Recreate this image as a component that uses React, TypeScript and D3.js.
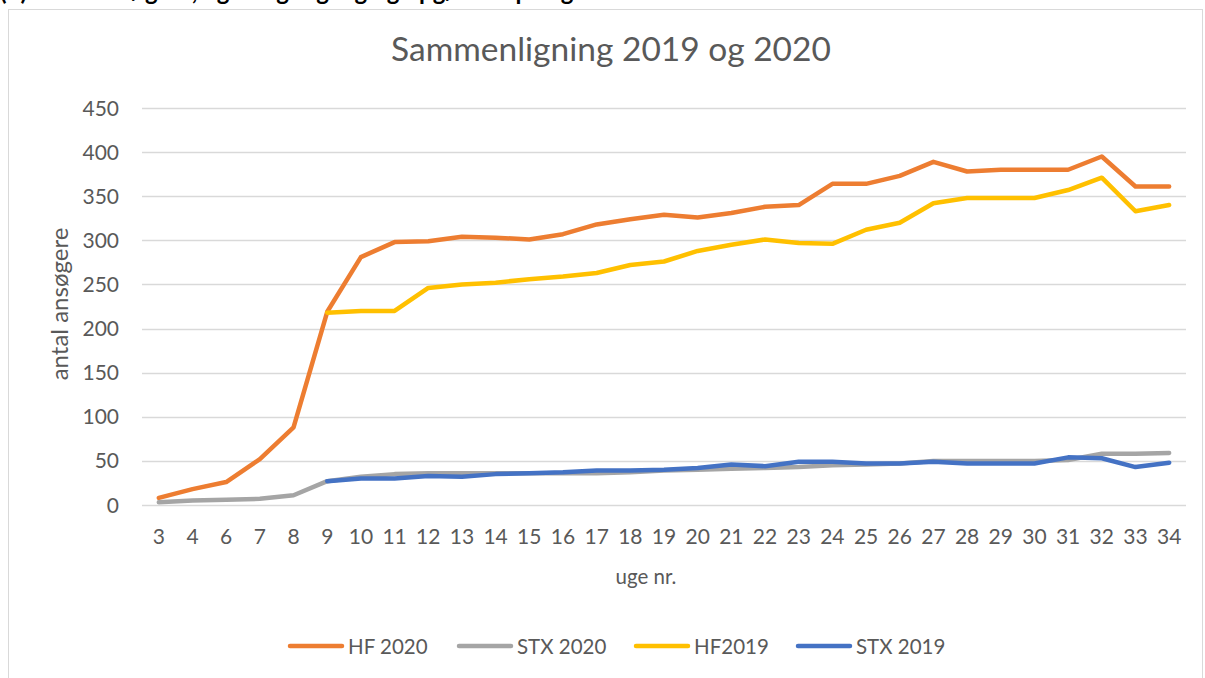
import { useRef, useEffect } from 'react';
import * as d3 from 'd3';

const weeks = ['3', '4', '6', '7', '8', '9', '10', '11', '12', '13', '14', '15', '16', '17', '18', '19', '20', '21', '22', '23', '24', '25', '26', '27', '28', '29', '30', '31', '32', '33', '34'];

const hf2020 = [8, 18, 26, 52, 88, 219, 281, 298, 299, 304, 303, 301, 307, 318, 324, 329, 326, 331, 338, 340, 364, 364, 373, 389, 378, 380, 380, 380, 395, 361, 361];
const stx2020 = [3, 5, 6, 7, 11, 27, 32, 35, 36, 36, 36, 36, 36, 36, 37, 39, 40, 41, 42, 43, 45, 46, 47, 50, 50, 50, 50, 51, 58, 58, 59];
// 2019 series starts in week 9
const hf2019 = [null, null, null, null, null, 218, 220, 220, 246, 250, 252, 256, 259, 263, 272, 276, 288, 295, 301, 297, 296, 312, 320, 342, 348, 348, 348, 357, 371, 333, 340];
const stx2019 = [null, null, null, null, null, 27, 30, 30, 33, 32, 35, 36, 37, 39, 39, 40, 42, 46, 44, 49, 49, 47, 47, 49, 47, 47, 47, 54, 53, 43, 48];

const yTicks = [0, 50, 100, 150, 200, 250, 300, 350, 400, 450];

const series = [
  { name: 'HF 2020', values: hf2020, color: '#ed7d31' },
  { name: 'STX 2020', values: stx2020, color: '#a5a5a5' },
  { name: 'HF2019', values: hf2019, color: '#ffc000' },
  { name: 'STX 2019', values: stx2019, color: '#4472c4' },
];

const W = 1205;
const H = 678;
const FONT = 'Lato, Carlito, Calibri, sans-serif';
const TEXT = '#595959';

export default function App() {
  const svgRef = useRef<SVGSVGElement>(null);

  useEffect(() => {
    const svg = d3.select(svgRef.current);
    svg.selectAll('*').remove();

    const margin = { left: 142, right: 19, top: 108, bottom: 173 };
    const x = d3.scaleBand().domain(weeks).range([margin.left, W - margin.right]);
    const y = d3.scaleLinear().domain([0, 450]).range([H - margin.bottom, margin.top]);

    // heading of the page above the chart, mostly cut off at the top
    svg.append('text')
      .attr('x', 0)
      .attr('y', 0)
      .attr('font-family', FONT)
      .attr('font-weight', 'bold')
      .attr('font-size', 24)
      .attr('fill', '#000')
      .text('(3) Antal ansøgere, ugentlig tilgang og opgørelse på uger');

    // chart frame
    svg.append('rect')
      .attr('x', 8.5)
      .attr('y', 9.5)
      .attr('width', W - 11)
      .attr('height', H)
      .attr('fill', '#fff')
      .attr('stroke', '#d9d9d9')
      .attr('stroke-width', 1);

    svg.append('text')
      .attr('x', 611)
      .attr('y', 61)
      .attr('text-anchor', 'middle')
      .attr('font-family', FONT)
      .attr('font-size', 33.5)
      .attr('fill', TEXT)
      .text('Sammenligning 2019 og 2020');

    svg.append('g')
      .selectAll('line')
      .data(yTicks)
      .join('line')
      .attr('x1', margin.left)
      .attr('x2', W - margin.right)
      .attr('y1', (d) => Math.round(y(d)) + 0.5)
      .attr('y2', (d) => Math.round(y(d)) + 0.5)
      .attr('stroke', '#d9d9d9')
      .attr('stroke-width', 1.5);

    svg.append('g')
      .selectAll('text')
      .data(yTicks)
      .join('text')
      .attr('x', 119)
      .attr('y', (d) => y(d) + 7.5)
      .attr('text-anchor', 'end')
      .attr('font-family', FONT)
      .attr('font-size', 21)
      .attr('fill', TEXT)
      .text((d) => d);

    svg.append('g')
      .selectAll('text')
      .data(weeks)
      .join('text')
      .attr('x', (d) => x(d)! + x.bandwidth() / 2)
      .attr('y', 544)
      .attr('text-anchor', 'middle')
      .attr('font-family', FONT)
      .attr('font-size', 21)
      .attr('fill', TEXT)
      .text((d) => d);

    svg.append('text')
      .attr('x', 646)
      .attr('y', 584)
      .attr('text-anchor', 'middle')
      .attr('font-family', FONT)
      .attr('font-size', 20.5)
      .attr('fill', TEXT)
      .text('uge nr.');

    svg.append('text')
      .attr('transform', 'translate(68, 304) rotate(-90)')
      .attr('text-anchor', 'middle')
      .attr('font-family', FONT)
      .attr('font-size', 24)
      .attr('fill', TEXT)
      .text('antal ansøgere');

    const line = d3.line<number | null>()
      .defined((d) => d !== null)
      .x((_, i) => x(weeks[i])! + x.bandwidth() / 2)
      .y((d) => y(d as number));

    svg.append('g')
      .selectAll('path')
      .data(series)
      .join('path')
      .attr('d', (s) => line(s.values))
      .attr('fill', 'none')
      .attr('stroke', (s) => s.color)
      .attr('stroke-width', 4.5)
      .attr('stroke-linejoin', 'round')
      .attr('stroke-linecap', 'round');

    // legend
    const legendX = [290, 459, 636, 798];
    const legend = svg.append('g')
      .selectAll('g')
      .data(series)
      .join('g')
      .attr('transform', (_, i) => `translate(${legendX[i]}, 646)`);

    legend.append('line')
      .attr('x1', 0)
      .attr('x2', 52)
      .attr('stroke', (s) => s.color)
      .attr('stroke-width', 4.5)
      .attr('stroke-linecap', 'round');

    legend.append('text')
      .attr('x', 58)
      .attr('y', 7.5)
      .attr('font-family', FONT)
      .attr('font-size', 20.5)
      .attr('fill', TEXT)
      .text((s) => s.name);
  }, []);

  return (
    <svg
      ref={svgRef}
      width={W}
      height={H}
      style={{ position: 'absolute', left: 0, top: 0, background: '#fff' }}
    />
  );
}
